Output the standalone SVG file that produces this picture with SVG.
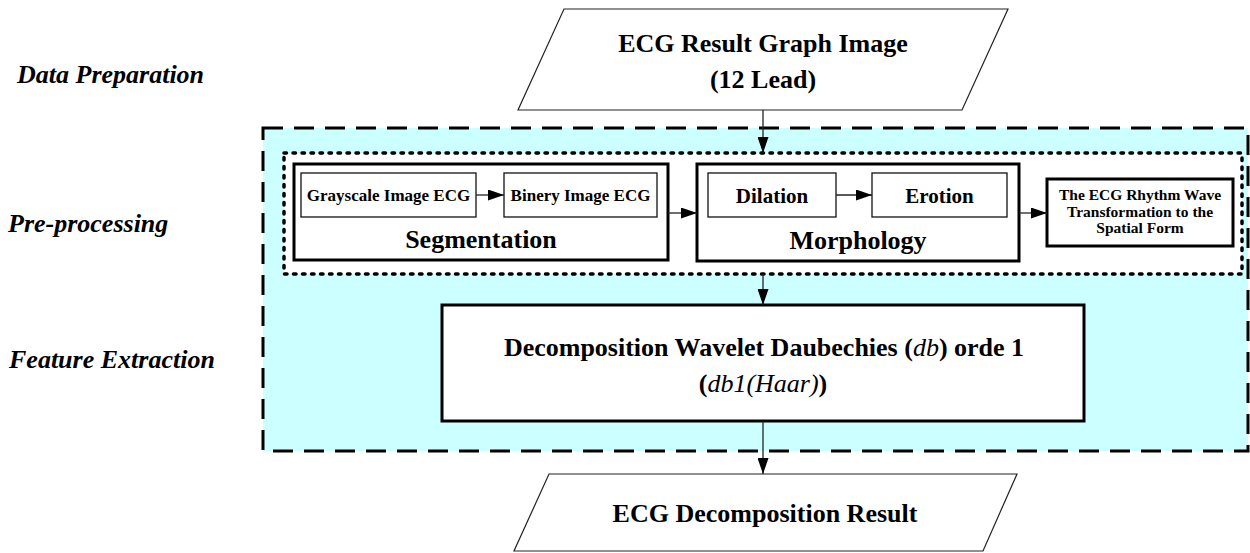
<svg xmlns="http://www.w3.org/2000/svg" width="1250" height="553" viewBox="0 0 1250 553">
  <style>
    text { font-family: "Liberation Serif", "Times New Roman", serif; font-weight: bold; fill: #000; }
    .stage { font-style: italic; font-size: 26px; }
    .big { font-size: 26px; text-anchor: middle; }
    .mid { font-size: 21px; text-anchor: middle; }
    .small { font-size: 17px; text-anchor: middle; }
    .tiny { font-size: 15.5px; text-anchor: middle; }
    .it { font-style: italic; font-weight: normal; }
    .thick { fill: #fff; stroke: #000; stroke-width: 3; }
    .thin { fill: #fff; stroke: #111; stroke-width: 1.3; }
    .io { fill: #fff; stroke: #222; stroke-width: 1.2; }
    .conn { fill: none; stroke: #222; stroke-width: 1.3; marker-end: url(#ah); }
  </style>
  <defs>
    <marker id="ah" viewBox="0 0 16 11" refX="16" refY="5.5" markerWidth="16" markerHeight="11" markerUnits="userSpaceOnUse" orient="auto">
      <path d="M0,0 L16,5.5 L0,11 Z" fill="#000"/>
    </marker>
  </defs>

  <rect width="1250" height="553" fill="#fff"/>

  <!-- stage labels -->
  <g id="stage-labels">
    <text class="stage" x="17" y="83">Data Preparation</text>
    <text class="stage" x="8" y="232">Pre-processing</text>
    <text class="stage" x="9" y="368">Feature Extraction</text>
  </g>

  <!-- processing area (dashed) and pre-processing area (dotted) -->
  <g id="processing-area">
    <rect x="263" y="128" width="985" height="323" fill="#ccffff" stroke="#000" stroke-width="3" stroke-dasharray="20 11"/>
  </g>
  <g id="preprocessing-area">
    <rect x="284" y="153" width="958" height="121" fill="#fff" stroke="#000" stroke-width="3.5" stroke-dasharray="2.5 6.5" stroke-linecap="round"/>
  </g>

  <!-- input -->
  <g id="input-image">
    <polygon class="io" points="564,9 1008,9 962,110 518,110"/>
    <text class="big" x="763" y="52">ECG Result Graph Image</text>
    <text class="big" x="763" y="88">(12 Lead)</text>
  </g>

  <!-- segmentation -->
  <g id="segmentation">
    <rect class="thick" x="294" y="164" width="374" height="96"/>
    <text class="big" x="481" y="248">Segmentation</text>
  </g>
  <g id="grayscale">
    <rect class="thin" x="301" y="173" width="175" height="44"/>
    <text class="small" x="388.5" y="201">Grayscale Image ECG</text>
  </g>
  <g id="binary">
    <rect class="thin" x="504" y="173" width="153" height="44"/>
    <text class="small" x="580.5" y="201">Binery Image ECG</text>
  </g>

  <!-- morphology -->
  <g id="morphology">
    <rect class="thick" x="697" y="164" width="322" height="97"/>
    <text class="big" x="858" y="249">Morphology</text>
  </g>
  <g id="dilation">
    <rect class="thin" x="708" y="173" width="128" height="44"/>
    <text class="mid" x="772" y="203">Dilation</text>
  </g>
  <g id="erotion">
    <rect class="thin" x="872" y="173" width="135" height="44"/>
    <text class="mid" x="939.5" y="203">Erotion</text>
  </g>

  <!-- spatial transformation -->
  <g id="spatial-form">
    <rect class="thick" x="1047" y="179" width="186" height="67"/>
    <text class="tiny" x="1140" y="200">The ECG Rhythm Wave</text>
    <text class="tiny" x="1140" y="217">Transformation to the</text>
    <text class="tiny" x="1140" y="233">Spatial Form</text>
  </g>

  <!-- feature extraction -->
  <g id="decomposition">
    <rect class="thick" x="442" y="305" width="642" height="116"/>
    <text class="big" x="764" y="356">Decomposition Wavelet Daubechies (<tspan class="it">db</tspan>) orde 1</text>
    <text class="big" x="763" y="392">(<tspan class="it">db1(Haar)</tspan>)</text>
  </g>

  <!-- output -->
  <g id="output-result">
    <polygon class="io" points="549,474 1017,474 983,551 514,551"/>
    <text class="big" x="765" y="522">ECG Decomposition Result</text>
  </g>

  <!-- connectors -->
  <g id="connectors">
    <path class="conn" d="M763,110 V153"/>
    <path class="conn" d="M476,195 H504"/>
    <path class="conn" d="M836,195 H872"/>
    <path class="conn" d="M668,213 H697"/>
    <path class="conn" d="M1019,213 H1047"/>
    <path class="conn" d="M763,274 V305"/>
    <path class="conn" d="M763,421 V474"/>
  </g>
</svg>
